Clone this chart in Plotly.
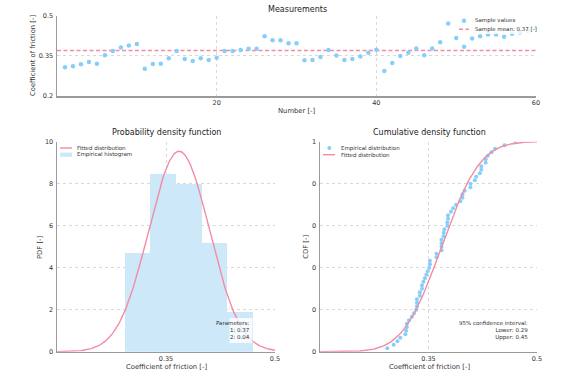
import numpy as np
import plotly.graph_objects as go
from math import erf

# ---- data ----
sample_numbers = list(range(1, 61))
friction_values = [
    0.307, 0.311, 0.318, 0.327, 0.320, 0.352, 0.368, 0.381, 0.388, 0.394,
    0.302, 0.319, 0.320, 0.341, 0.368, 0.338, 0.330, 0.341, 0.334, 0.343,
    0.368, 0.368, 0.371, 0.376, 0.376, 0.423, 0.408, 0.408, 0.397, 0.397,
    0.333, 0.334, 0.345, 0.371, 0.351, 0.334, 0.338, 0.347, 0.361, 0.372,
    0.293, 0.323, 0.349, 0.361, 0.377, 0.352, 0.377, 0.400, 0.470, 0.416,
    0.384, 0.414, 0.423, 0.429, 0.429, 0.421, 0.432, 0.437, 0.442, 0.455,
]
fit_mean = 0.368
fit_std = 0.0418
ci_lower = 0.29
ci_upper = 0.45
n_bins = 5

top_y_ticks = [0.2, 0.35, 0.5]
top_x_ticks = [20, 40, 60]
pdf_y_ticks = [0, 2, 4, 6, 8, 10]
bottom_x_ticks = [0.35, 0.5]
bottom_x_labels = ["0.35", "0.5"]
cdf_y_ticks = [0, 0.2, 0.4, 0.6, 0.8, 1.0]
cdf_y_labels = ["0", "0", "0", "0", "0", "1"]

# ---- styles ----
W, H = 567, 375
FONT = "DejaVu Sans"
BLUE = "#87cefa"
HIST = "#cde8f9"
PINK = "#f38ba3"
AXC = "#9a9a9a"
GRID = "#d9d9d9"
TXT = "#333333"

vals = np.array(friction_values)
mean_val = float(vals.mean())

counts, edges = np.histogram(vals, bins=n_bins, density=True)
centers = 0.5 * (edges[:-1] + edges[1:])
widths = np.diff(edges)

xs = np.linspace(0.2, 0.5, 301)
pdf = np.exp(-0.5 * ((xs - fit_mean) / fit_std) ** 2) / (fit_std * np.sqrt(2 * np.pi))
cdf = np.array([0.5 * (1 + erf((x - fit_mean) / (fit_std * np.sqrt(2)))) for x in xs])

sorted_vals = np.sort(vals)
ecdf = np.arange(1, len(vals) + 1) / len(vals)

fig = go.Figure()

# top: measurements
fig.add_trace(go.Scatter(x=[0, 60], y=[mean_val, mean_val], mode="lines",
                         line=dict(color=PINK, width=1.4, dash="4px,2.5px"),
                         xaxis="x", yaxis="y", hoverinfo="skip"))
fig.add_trace(go.Scatter(x=sample_numbers, y=friction_values, mode="markers",
                         marker=dict(color=BLUE, size=4.5), xaxis="x", yaxis="y"))

# bottom-left: pdf
fig.add_trace(go.Bar(x=centers, y=counts, width=widths, marker=dict(color=HIST, line=dict(width=0)),
                     xaxis="x2", yaxis="y2"))
fig.add_trace(go.Scatter(x=xs, y=pdf, mode="lines", line=dict(color=PINK, width=1.4),
                         xaxis="x2", yaxis="y2"))

# bottom-right: cdf
fig.add_trace(go.Scatter(x=sorted_vals, y=ecdf, mode="markers", marker=dict(color=BLUE, size=4),
                         xaxis="x3", yaxis="y3"))
fig.add_trace(go.Scatter(x=xs, y=cdf, mode="lines", line=dict(color=PINK, width=1.4),
                         xaxis="x3", yaxis="y3"))


def px(x):
    return x / W


def py(y):
    return 1 - y / H


tickfont = dict(family=FONT, size=6.5, color=TXT)
ax_common = dict(showline=True, linecolor=AXC, linewidth=1.5, showgrid=True,
                 gridcolor=GRID, griddash="dot", gridwidth=1, zeroline=False,
                 ticks="", tickfont=tickfont, mirror=False, automargin=False,
                 fixedrange=True)

fig.update_layout(
    width=W, height=H, margin=dict(l=0, r=0, t=0, b=0),
    paper_bgcolor="white", plot_bgcolor="white",
    font=dict(family=FONT, color=TXT),
    showlegend=False, bargap=0,
    xaxis=dict(domain=[px(57), px(536)], range=[0, 60], tickvals=top_x_ticks,
               anchor="y", **ax_common),
    yaxis=dict(domain=[py(96), py(15.5)], range=[0.2, 0.5], tickvals=top_y_ticks,
               ticktext=[str(v) for v in top_y_ticks], ticklabelstandoff=1,
               anchor="x", **ax_common),
    xaxis2=dict(domain=[px(57), px(275)], range=[0.2, 0.5], tickvals=bottom_x_ticks,
                ticktext=bottom_x_labels, anchor="y2", **ax_common),
    yaxis2=dict(domain=[py(351.7), py(141.7)], range=[0, 10], tickvals=pdf_y_ticks,
                ticklabelstandoff=1, anchor="x2", **ax_common),
    xaxis3=dict(domain=[px(320), px(537)], range=[0.2, 0.5], tickvals=bottom_x_ticks,
                ticktext=bottom_x_labels, anchor="y3", **ax_common),
    yaxis3=dict(domain=[py(351.7), py(141.7)], range=[0, 1], tickvals=cdf_y_ticks,
                ticktext=cdf_y_labels, ticklabelstandoff=1, anchor="x3", **ax_common),
)


def text_at(text, x, y, size, xanchor="center", angle=0, color=TXT, align="left"):
    fig.add_annotation(text=text, x=px(x), y=py(y), xref="paper", yref="paper",
                       showarrow=False, font=dict(family=FONT, size=size, color=color),
                       xanchor=xanchor, yanchor="middle", textangle=angle, align=align,
                       borderpad=0)


# titles
text_at("Measurements", 297, 10, 8, color="#222222")
text_at("Probability density function", 166, 132.7, 8, color="#222222")
text_at("Cumulative density function", 429, 132.7, 8, color="#222222")

# axis titles
text_at("Number [-]", 297, 111, 6.8)
text_at("Coefficient of friction [-]", 166, 367.3, 6.8)
text_at("Coefficient of friction [-]", 429, 367.3, 6.8)
text_at("Coefficient of friction [-]", 32.3, 55.7, 6.8, angle=-90)
text_at("PDF [-]", 39.3, 246.7, 6.8, angle=-90)
text_at("CDF [-]", 306, 246.7, 6.8, angle=-90)

LEG = 5.5


def rect(x0, y0, x1, y1, fill):
    fig.add_shape(type="rect", xref="paper", yref="paper", x0=px(x0), x1=px(x1),
                  y0=py(y1), y1=py(y0), fillcolor=fill, line=dict(width=0), layer="above")


def hline(x0, x1, y, dash="solid"):
    fig.add_shape(type="line", xref="paper", yref="paper", x0=px(x0), x1=px(x1),
                  y0=py(y), y1=py(y), line=dict(color=PINK, width=1.4, dash=dash), layer="above")


def dot(x, y, r=2.0):
    fig.add_shape(type="circle", xref="paper", yref="paper", x0=px(x - r), x1=px(x + r),
                  y0=py(y + r), y1=py(y - r), fillcolor=BLUE, line=dict(width=0), layer="above")


# top legend
rect(455, 15.5, 536, 34, "rgba(255,255,255,0.8)")
dot(464, 20.7, 2.2)
text_at("Sample values", 474, 20.7, LEG, xanchor="left")
hline(459, 469, 29.3, dash="4px,2.5px")
text_at("Sample mean: {:.2f} [-]".format(mean_val), 474, 29.3, LEG, xanchor="left")

# pdf legend
rect(58, 143, 131, 159, "rgba(255,255,255,0.8)")
hline(60, 72, 148)
text_at("Fitted distribution", 75.7, 148, LEG, xanchor="left")
rect(60, 152.6, 72, 156.8, HIST)
text_at("Empirical histogram", 75.7, 154.7, LEG, xanchor="left")

# cdf legend
dot(329.3, 148, 2.0)
text_at("Empirical distribution", 339.7, 148, LEG, xanchor="left")
hline(323, 335, 154.7)
text_at("Fitted distribution", 339.7, 154.7, LEG, xanchor="left")

# parameter box
rect(229.5, 318, 252.5, 343, "rgba(255,255,255,0.8)")
text_at("Parameters:<br>1: {:.2f}<br>2: {:.2f}".format(fit_mean, fit_std), 250.7, 329.5, LEG,
        xanchor="right", align="right")

# confidence interval
text_at("95% confidence interval:<br>Lower: {:.2f}<br>Upper: {:.2f}".format(ci_lower, ci_upper),
        529.3, 330.7, LEG, xanchor="right", align="right")

fig.write_html("out.html", config={"displayModeBar": False, "staticPlot": True},
               post_script="document.body.style.margin='0px';document.body.style.padding='0px';")
